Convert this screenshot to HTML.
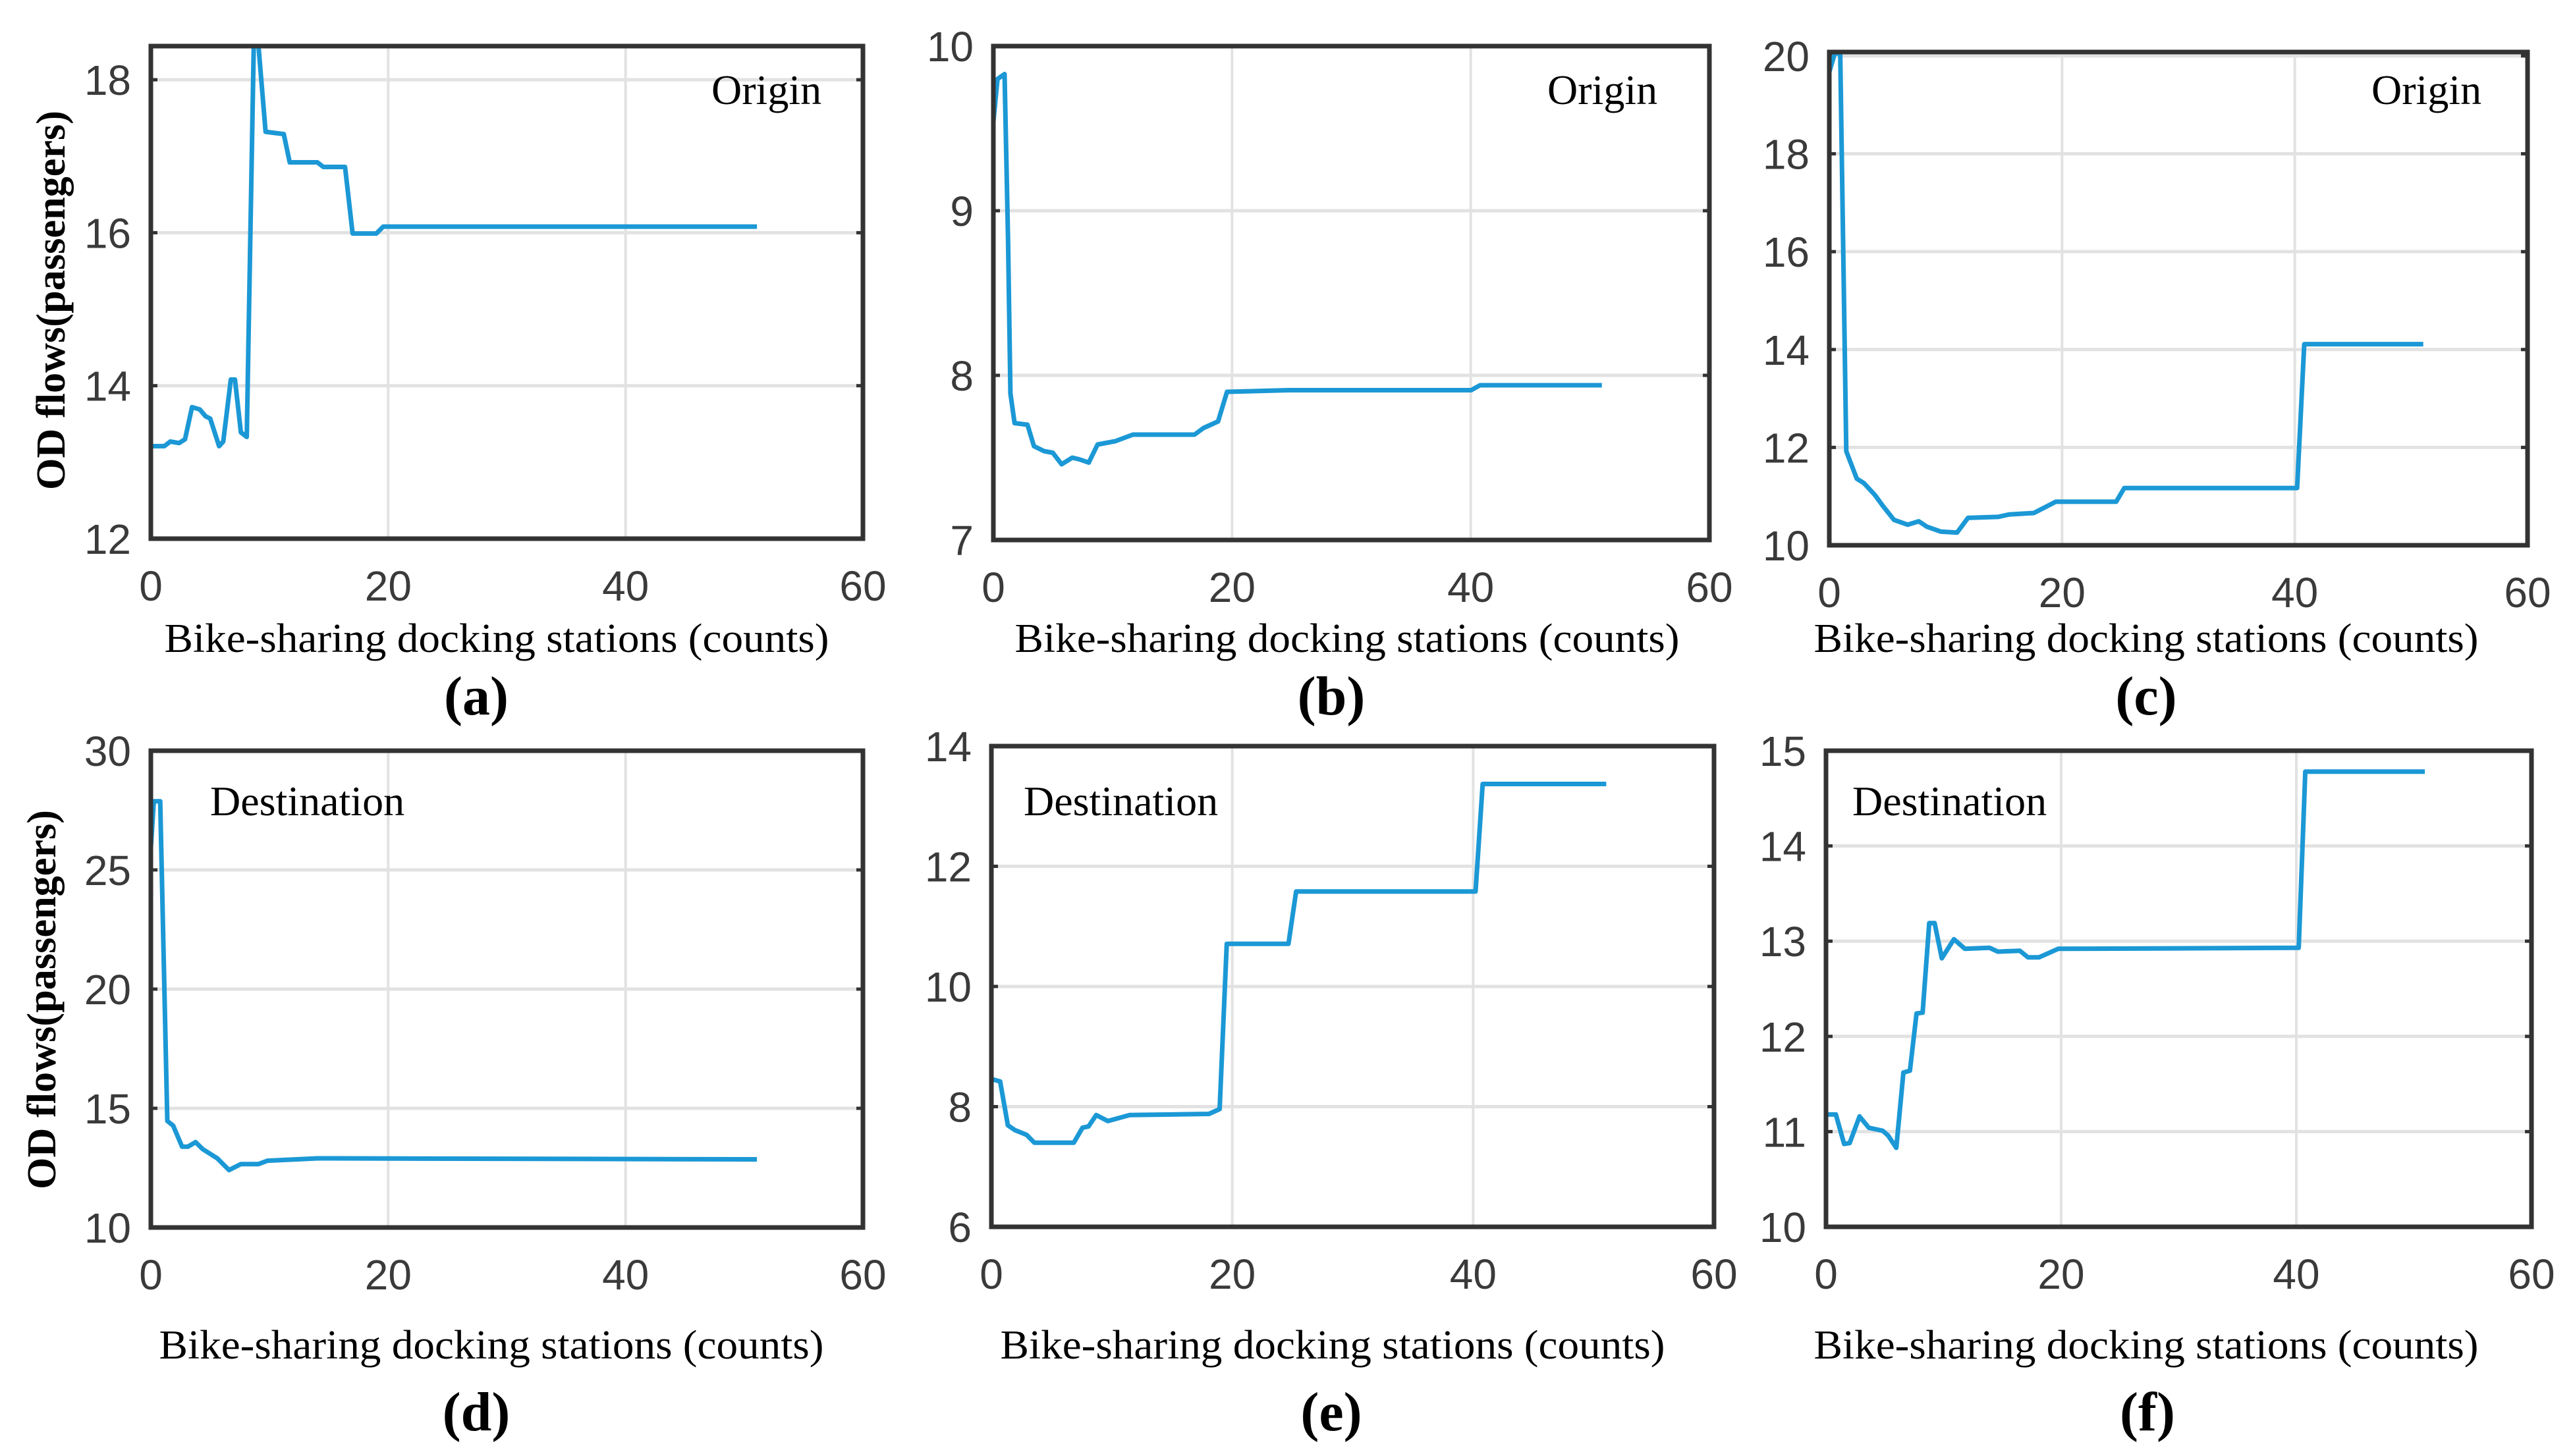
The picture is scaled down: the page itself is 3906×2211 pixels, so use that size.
<!DOCTYPE html>
<html><head><meta charset="utf-8"><style>
html,body{margin:0;padding:0;background:#fff;}
svg{display:block;}
.tick{font-family:"Liberation Sans",Arial,sans-serif;fill:#3a3a3a;font-size:64px;}
.xl{font-family:"Liberation Serif","Times New Roman",serif;fill:#000;font-size:62px;}
.pl{font-family:"Liberation Serif","Times New Roman",serif;fill:#000;font-size:84px;font-weight:bold;}
.yl{font-family:"Liberation Serif","Times New Roman",serif;fill:#000;font-size:62px;font-weight:bold;}
.ann{font-family:"Liberation Serif","Times New Roman",serif;fill:#000;font-size:64px;}
</style></head><body>
<svg id="fig" width="3906" height="2211" viewBox="0 0 3906 2211" xmlns="http://www.w3.org/2000/svg"></svg>
<script>
// ---- data (x: stations count, y: OD flows) ----
const aX=[0,1.14,1.64,2.38,2.88,3.47,4.12,4.61,5.0,5.75,6.1,6.74,7.09,7.59,8.08,8.67,9.07,9.67,11.2,11.7,14.03,14.53,16.36,17.0,19.0,19.58,51.07];
const aY=[13.21,13.21,13.27,13.25,13.3,13.72,13.69,13.6,13.57,13.21,13.27,14.08,14.08,13.39,13.33,18.44,18.44,17.32,17.29,16.92,16.92,16.86,16.86,15.99,15.99,16.08,16.08];
const bX=[0,0.35,0.94,1.23,1.43,1.78,2.86,3.4,4.24,4.98,5.72,6.61,7.2,7.99,8.73,10.21,11.69,16.86,17.6,18.83,19.58,24.75,40.04,40.78,50.99];
const bY=[9.54,9.80,9.83,8.82,7.89,7.71,7.70,7.57,7.54,7.53,7.46,7.50,7.49,7.47,7.58,7.60,7.64,7.64,7.68,7.72,7.90,7.91,7.91,7.94,7.94];
const cX=[0,0.47,0.94,1.46,2.36,2.97,3.91,4.62,5.56,6.74,7.68,8.39,9.57,10.98,11.92,14.51,15.46,17.58,19.46,24.65,25.35,40.2,40.81,51.04];
const cY=[19.67,20.05,20.05,11.92,11.36,11.27,11.03,10.8,10.52,10.42,10.49,10.38,10.28,10.26,10.56,10.58,10.63,10.66,10.89,10.89,11.17,11.17,14.11,14.11];
const dX=[0,0.25,0.79,1.39,1.88,2.63,3.12,3.77,4.36,5.6,6.59,7.58,9.07,9.82,14.03,51.07];
const dY=[25.93,27.88,27.88,14.47,14.27,13.39,13.39,13.58,13.29,12.9,12.41,12.66,12.66,12.8,12.9,12.86];
const eX=[0,0.73,1.37,1.95,2.93,3.57,6.84,7.57,8.06,8.7,9.67,11.48,18.07,18.95,19.54,24.67,25.3,40.2,40.79,51.05];
const eY=[8.46,8.42,7.69,7.61,7.53,7.40,7.40,7.65,7.67,7.86,7.76,7.86,7.88,7.96,10.71,10.71,11.58,11.58,13.37,13.37];
const fX=[0,0.84,1.54,2.01,2.85,3.64,4.81,5.28,5.98,6.58,7.14,7.7,8.22,8.78,9.24,9.85,10.88,11.81,13.91,14.61,16.48,17.18,18.11,19.75,40.2,40.76,50.93];
const fY=[11.18,11.18,10.87,10.88,11.16,11.04,11.01,10.96,10.83,11.62,11.64,12.24,12.25,13.19,13.19,12.82,13.02,12.92,12.93,12.89,12.90,12.83,12.83,12.92,12.93,14.78,14.78];
const xTicks=[0,20,40,60];
const aTicks=[12,14,16,18], bTicks=[7,8,9,10], cTicks=[10,12,14,16,18,20], dTicks=[10,15,20,25,30], eTicks=[6,8,10,12,14], fTicks=[10,11,12,13,14,15];
const panelLetters=["(a)","(b)","(c)","(d)","(e)","(f)"];

const NS="http://www.w3.org/2000/svg";
const svg=document.getElementById('fig');
function mk(tag,attrs,parent){const e=document.createElementNS(NS,tag);for(const k in attrs)e.setAttribute(k,attrs[k]);(parent||svg).appendChild(e);return e;}

const panels=[
 {id:'a',L:229,R:1310,T:70,B:818,y0:12,y1:18.44,X:aX,Y:aY,ticks:aTicks,ann:'Origin',ax:1080,ay:158,xlc:754,plc:723,xly:990,ply:1085,ylab:{x:76,y:456}},
 {id:'b',L:1508,R:2595,T:70,B:820,y0:7,y1:10,X:bX,Y:bY,ticks:bTicks,ann:'Origin',ax:2349,ay:158,xlc:2045,plc:2021,xly:990,ply:1085},
 {id:'c',L:2777,R:3837,T:79,B:828,y0:10,y1:20.08,X:cX,Y:cY,ticks:cTicks,ann:'Origin',ax:3600,ay:158,xlc:3258,plc:3258,xly:990,ply:1085},
 {id:'d',L:229,R:1310,T:1140,B:1864,y0:10,y1:30,X:dX,Y:dY,ticks:dTicks,ann:'Destination',ax:319,ay:1238,xlc:746,plc:723,xly:2063,ply:2172,ylab:{x:62,y:1518}},
 {id:'e',L:1505,R:2602,T:1133,B:1863,y0:6,y1:14,X:eX,Y:eY,ticks:eTicks,ann:'Destination',ax:1554,ay:1238,xlc:2023,plc:2021,xly:2063,ply:2172},
 {id:'f',L:2772,R:3843,T:1140,B:1863,y0:10,y1:15,X:fX,Y:fY,ticks:fTicks,ann:'Destination',ax:2812,ay:1238,xlc:3258,plc:3260,xly:2063,ply:2172}
];

panels.forEach((p,i)=>{
  const g=mk('g',{});
  
  
  const sx=v=>p.L+(v-0)/(60-0)*(p.R-p.L);
  const sy=v=>p.B-(v-p.y0)/(p.y1-p.y0)*(p.B-p.T);
  mk('rect',{x:p.L,y:p.T,width:p.R-p.L,height:p.B-p.T,fill:'#fff'},g);
  xTicks.forEach(t=>{
    const l=mk('line',{x1:sx(t),x2:sx(t),y1:p.T,y2:p.B,stroke:'#e2e2e2','stroke-width':4},g);
    
    
    const tx=mk('text',{x:sx(t),y:p.B+94,'text-anchor':'middle',class:'tick'},g);
    tx.textContent=t;
    
    
  });
  p.ticks.forEach(t=>{
    const y=sy(t);
    const l=mk('line',{x1:p.L,x2:p.R,y1:y,y2:y,stroke:'#e2e2e2','stroke-width':5},g);
    
    
    mk('line',{x1:p.L,x2:p.L+10,y1:y,y2:y,stroke:'#333','stroke-width':5},g);
    mk('line',{x1:p.R-10,x2:p.R,y1:y,y2:y,stroke:'#333','stroke-width':5},g);
    const tx=mk('text',{x:p.L-30,y:y+23,'text-anchor':'end',class:'tick'},g);
    tx.textContent=t;
    
    
  });
  const pts=p.X.map((x,k)=>sx(x).toFixed(1)+','+sy(Math.min(p.Y[k],p.y1)).toFixed(1)).join(' ');
  const pl=mk('polyline',{points:pts,fill:'none',stroke:'#1b98d5','stroke-width':7,'stroke-linejoin':'round'},g);
  
  
  const fr=mk('rect',{x:p.L,y:p.T,width:p.R-p.L,height:p.B-p.T,fill:'none',stroke:'#333','stroke-width':7},g);
  
  
  const an=mk('text',{x:p.ax,y:p.ay,class:'ann'},g);
  an.textContent=p.ann;
  
  
  const xl=mk('text',{x:p.xlc,y:p.xly,'text-anchor':'middle',class:'xl',textLength:1009,lengthAdjust:'spacingAndGlyphs'},g);
  xl.textContent='Bike-sharing docking stations (counts)';
  
  
  const pt=mk('text',{x:p.plc,y:p.ply,'text-anchor':'middle',class:'pl'},g);
  pt.textContent=panelLetters[i];
  
  
  if(p.ylab){
    const yl=mk('text',{x:0,y:0,'text-anchor':'middle',class:'yl',textLength:576,lengthAdjust:'spacingAndGlyphs',transform:'translate('+(p.ylab.x+22)+','+p.ylab.y+') rotate(-90)'},g);
    yl.textContent='OD flows(passengers)';
    
    
  }
});
</script>
</body></html>
